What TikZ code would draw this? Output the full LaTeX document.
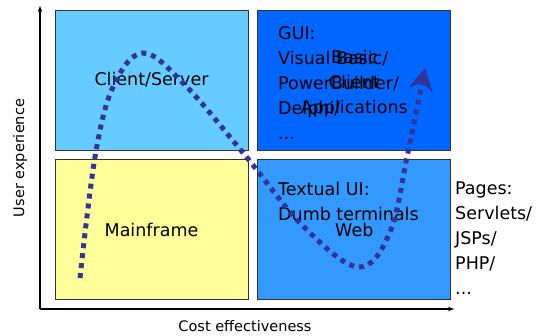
\documentclass[tikz,border=0pt]{standalone}
\usepackage{fontspec}
\setmainfont{DejaVu Sans}
\usetikzlibrary{positioning, arrows.meta}

\definecolor{csblue}{HTML}{66CCFF}
\definecolor{guiblue}{HTML}{0066FF}
\definecolor{mfyellow}{HTML}{FFFF99}
\definecolor{webblue}{HTML}{3399FF}
\definecolor{trend}{HTML}{333399}
\newcommand{\bigtext}{\fontsize{17.5bp}{25bp}\selectfont}

\begin{document}
\begin{tikzpicture}[
    x=1bp, y=-1bp, node distance=9bp,
    quad/.style={draw=black!80, line width=0.8bp, minimum width=193bp,
        minimum height=140bp, inner sep=0pt, align=center, font=\bigtext},
    note/.style={anchor=north west, inner sep=0pt, align=left, font=\bigtext},
    axis/.style={line width=1.3bp, -{Stealth[length=6bp,width=4.5bp]}},
    axislabel/.style={font=\fontsize{14.5bp}{17bp}\selectfont}
]
    \useasboundingbox (0,0) rectangle (543,335);

    \node[quad, fill=csblue] (client) at (151.5,80) {Client/Server};
    \node[quad, fill=guiblue, right=of client] (gui) {};
    \node[quad, fill=mfyellow, below=of client] (mainframe) {Mainframe};
    \node[quad, fill=webblue, right=of mainframe] (web) {Web};
    \node[font=\bigtext, align=center, inner sep=0pt]
        (guiapps) at ([yshift=-4bp]gui.center) {Basic\\Client\\Applications};

    \node[note] (guilist) at (278,26) {GUI:\\Visual Basic/\\PowerBuilder/\\Delphi/\\...};
    \node[note] (textual) at (278,182) {Textual UI:\\Dumb terminals};
    \node[note] (pages) at (455,182) {Pages:\\Servlets/\\JSPs/\\PHP/\\...};

    \coordinate (origin) at (40,309);
    \coordinate (ytip) at (40,6);
    \coordinate (xtip) at (454,309);
    \draw[axis] (origin) -- (ytip);
    \draw[axis] (origin) -- (xtip);
    \node[axislabel, rotate=90] (ylabel) at (20,158) {User experience};
    \node[axislabel] (xlabel) at (245,326) {Cost effectiveness};

    % trend of the user experience over time
    \draw[trend, line width=5bp, dash pattern=on 5bp off 5bp,
          -{Stealth[length=22bp,width=24bp,inset=7bp]}]
        plot[smooth, tension=0.6] coordinates {(80,278) (95,157) (113,87)
            (143,53) (185,85) (244,154) (302,225) (358,267) (390,232)
            (408,152) (425,68)};

\end{tikzpicture}
\end{document}
